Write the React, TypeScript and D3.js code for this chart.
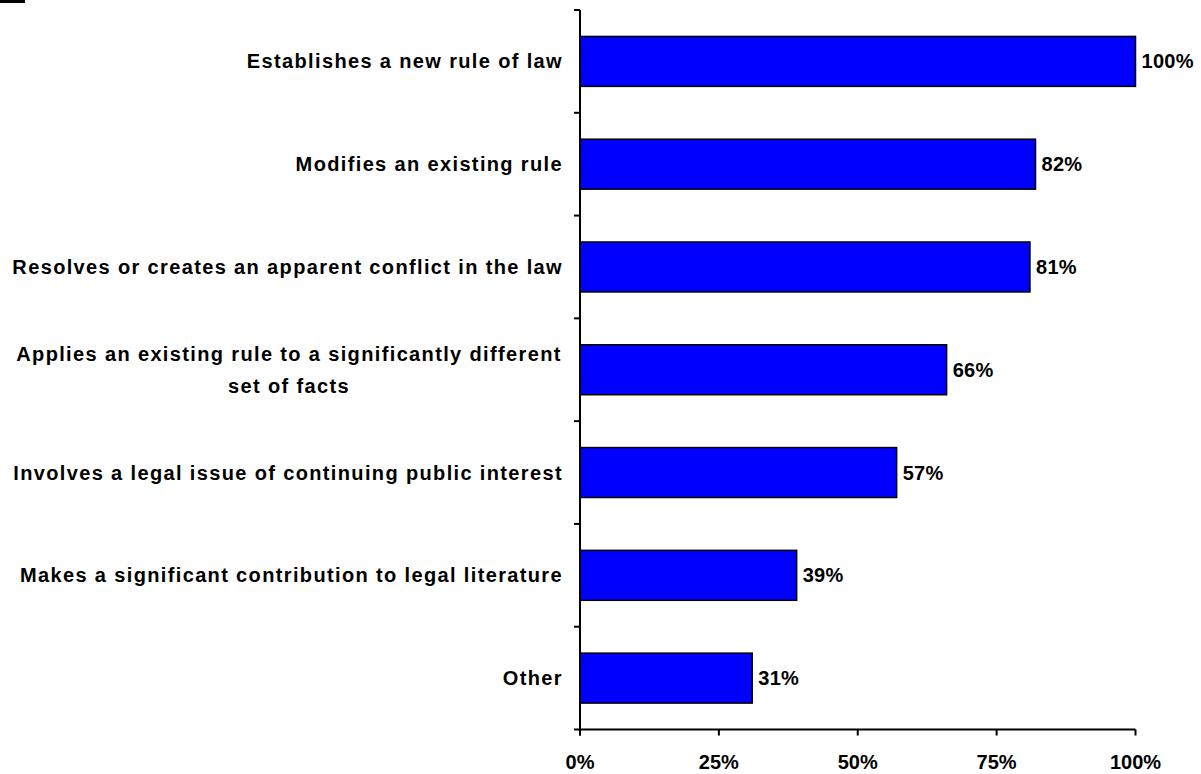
import React from "react";
import * as d3 from "d3";

const categories: string[][] = [
  ["Establishes a new rule of law"],
  ["Modifies an existing rule"],
  ["Resolves or creates an apparent conflict in the law"],
  ["Applies an existing rule to a significantly different", "set of facts"],
  ["Involves a legal issue of continuing public interest"],
  ["Makes a significant contribution to legal literature"],
  ["Other"],
];
const values: number[] = [100, 82, 81, 66, 57, 39, 31];
const tickValues: number[] = [0, 25, 50, 75, 100];

const W = 1201;
const H = 774;
const X0 = 580;
const X1 = 1135.5;
const Y0 = 10;
const Y1 = 729.5;
const FONT = "Arial, 'Liberation Sans', sans-serif";

export default function App() {
  const x = d3.scaleLinear().domain([0, 100]).range([X0, X1]);
  const keys = categories.map((_, i) => String(i));
  const y = d3
    .scaleBand<string>()
    .domain(keys)
    .range([Y0, Y1])
    .paddingInner(0.514)
    .paddingOuter(0.257);
  const step = y.step();
  const boundaries = keys.map((_, i) => Y0 + i * step);

  return (
    <svg
      width={W}
      height={H}
      style={{ position: "absolute", left: 0, top: 0, background: "#fff" }}
      fontFamily={FONT}
      fontWeight="bold"
    >
      <rect x={0} y={0} width={25} height={3} fill="#000" />
      {/* bars */}
      {values.map((v, i) => (
        <rect
          key={"b" + i}
          x={x(0)}
          y={y(String(i))!}
          width={x(v) - x(0)}
          height={y.bandwidth()}
          fill="#0000FF"
          stroke="#000"
          strokeWidth={1.5}
        />
      ))}
      {/* value labels */}
      {values.map((v, i) => (
        <text
          key={"v" + i}
          x={x(v) + 6}
          y={y(String(i))! + y.bandwidth() / 2}
          dy="0.35em"
          fontSize={20}
          letterSpacing={0.3}
          fill="#000"
        >
          {v}%
        </text>
      ))}
      {/* category labels */}
      {categories.map((lines, i) => {
        const cy = y(String(i))! + y.bandwidth() / 2;
        const lh = 32;
        const startY = cy - ((lines.length - 1) * lh) / 2;
        if (lines.length === 1) {
          return (
            <text
              key={"c" + i}
              x={563}
              y={cy}
              dy="0.35em"
              textAnchor="end"
              fontSize={20}
              letterSpacing={1.36}
              fill="#000"
            >
              {lines[0]}
            </text>
          );
        }
        return (
          <text
            key={"c" + i}
            x={289}
            textAnchor="middle"
            fontSize={20}
            letterSpacing={1.36}
            fill="#000"
          >
            {lines.map((l, j) => (
              <tspan key={j} x={289} y={startY + j * lh} dy="0.35em">
                {l}
              </tspan>
            ))}
          </text>
        );
      })}
      {/* y axis */}
      <line x1={X0} x2={X0} y1={Y0} y2={Y1 + 6} stroke="#000" strokeWidth={2} />
      {boundaries.map((b, i) => (
        <line key={"yt" + i} x1={X0 - 6} x2={X0} y1={b} y2={b} stroke="#000" strokeWidth={2} />
      ))}
      {/* x axis */}
      <line x1={X0 - 6} x2={X1} y1={Y1} y2={Y1} stroke="#000" strokeWidth={2} />
      {tickValues.map((t) => (
        <g key={"xt" + t}>
          <line x1={x(t)} x2={x(t)} y1={Y1} y2={Y1 + 6} stroke="#000" strokeWidth={2} />
          <text x={x(t)} y={762} dy="0.35em" textAnchor="middle" fontSize={20} fill="#000">
            {t}%
          </text>
        </g>
      ))}
    </svg>
  );
}
